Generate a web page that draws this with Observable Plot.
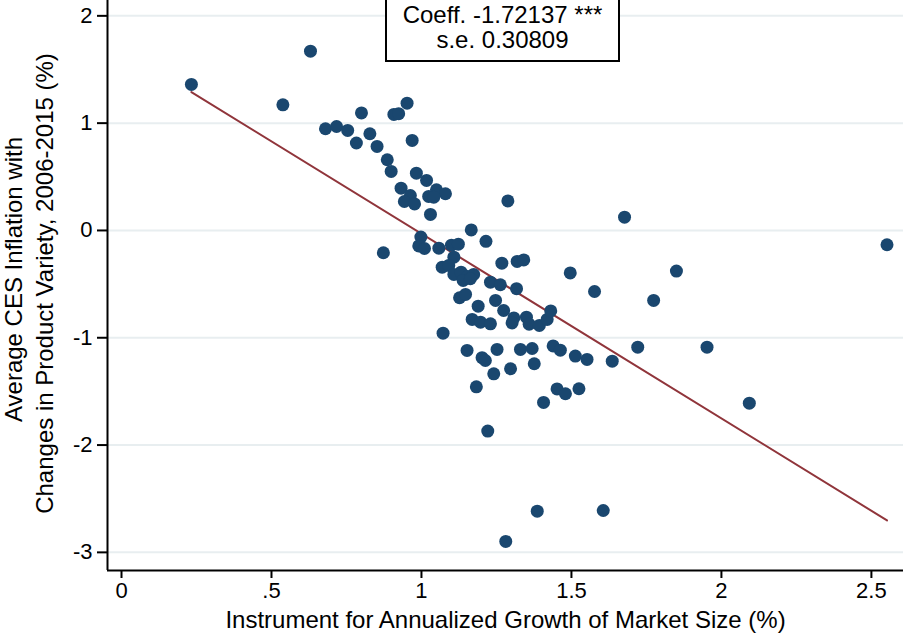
<!DOCTYPE html>
<html>
<head>
<meta charset="utf-8">
<script src="https://cdn.jsdelivr.net/npm/d3@7"></script>
<script src="https://cdn.jsdelivr.net/npm/@observablehq/plot@0.6"></script>
<style>
  html, body { margin: 0; padding: 0; background: #fff; }
  body { font-family: "Liberation Sans", Arial, sans-serif; }
  #wrap { position: relative; width: 903px; height: 635px; overflow: hidden; }
  #box { position: absolute; left: 385px; top: -3px; width: 231px; height: 58px;
         border: 2px solid #000; background: #fff; text-align: center;
         font-size: 24px; line-height: 25px; padding-top: 3px; box-sizing: content-box; color: #000; }
  #box div { white-space: nowrap; }
</style>
</head>
<body>
<div id="wrap"><div id="chart"></div><div id="box"></div></div>
<script>
// Instrument for annualized growth of market size (%)
const xs = [
  0.233, 0.630, 0.538, 0.680, 0.717, 0.754, 0.783, 0.800, 0.828, 0.852,
  0.886, 0.899, 0.908, 0.924, 0.952, 0.969, 0.983, 1.017, 0.932, 0.963,
  0.943, 0.977, 1.024, 1.050, 1.080, 1.041, 1.030, 1.288, 1.166, 1.215,
  0.998, 0.991, 1.010, 1.058, 1.100, 1.123, 0.873, 1.108, 1.069, 1.091,
  1.108, 1.132, 1.154, 1.174, 1.139, 1.163, 1.268, 1.319, 1.341, 1.496,
  1.230, 1.263, 1.317, 1.127, 1.147, 1.189, 1.247, 1.274, 1.169, 1.197,
  1.230, 1.308, 1.302, 1.350, 1.359, 1.393, 1.419, 1.431, 1.072, 1.152,
  1.202, 1.213, 1.252, 1.330, 1.369, 1.439, 1.463, 1.513, 1.552, 1.636,
  1.721, 1.297, 1.241, 1.376, 1.183, 1.452, 1.480, 1.525, 1.407, 1.221,
  1.386, 1.606, 1.281, 1.677, 1.577, 1.850, 1.774, 2.552, 1.952, 2.093
];
// Average CES inflation with changes in product variety, 2006-2015 (%)
const ys = [
  1.361, 1.671, 1.171, 0.948, 0.969, 0.932, 0.815, 1.095, 0.901, 0.783,
  0.659, 0.550, 1.081, 1.088, 1.186, 0.839, 0.534, 0.466, 0.394, 0.326,
  0.270, 0.247, 0.317, 0.379, 0.342, 0.310, 0.149, 0.275, 0.005, -0.101,
  -0.062, -0.144, -0.168, -0.165, -0.137, -0.128, -0.208, -0.249, -0.342, -0.326,
  -0.410, -0.389, -0.429, -0.410, -0.466, -0.450, -0.305, -0.289, -0.275, -0.396,
  -0.482, -0.506, -0.543, -0.627, -0.596, -0.706, -0.652, -0.746, -0.829, -0.855,
  -0.870, -0.815, -0.862, -0.808, -0.873, -0.885, -0.829, -0.750, -0.957, -1.118,
  -1.186, -1.212, -1.109, -1.109, -1.100, -1.076, -1.116, -1.171, -1.202, -1.218,
  -1.088, -1.289, -1.336, -1.242, -1.457, -1.477, -1.522, -1.475, -1.603, -1.870,
  -2.616, -2.610, -2.898, 0.124, -0.569, -0.379, -0.652, -0.133, -1.088, -1.610
];

const xTicks = [0, 0.5, 1, 1.5, 2, 2.5];
const xTickLabels = ["0", ".5", "1", "1.5", "2", "2.5"];
const yTicks = [-3, -2, -1, 0, 1, 2];
const yTickLabels = ["-3", "-2", "-1", "0", "1", "2"];
const xDomain = [-0.0467, 2.607];
const yDomain = [-3.169, 2.143];

const coeff = -1.72137;
const se = 0.30809;
const stars = "***";
const intercept = 1.691;
const fitRange = [0.233, 2.552];

const xLabel = "Instrument for Annualized Growth of Market Size (%)";
const yLabel1 = "Average CES Inflation with";
const yLabel2 = "Changes in Product Variety, 2006-2015 (%)";

const points = xs.map((x, i) => ({x, y: ys[i]}));
const fit = fitRange.map(x => ({x, y: intercept + coeff * x}));

const FONT = "Liberation Sans, Arial, sans-serif";
const navy = "#1a476f";
const maroon = "#90353b";

const chart = Plot.plot({
  width: 903,
  height: 635,
  marginLeft: 107,
  marginRight: 0,
  marginTop: 0,
  marginBottom: 65,
  style: {fontFamily: FONT, background: "#fff", color: "#000"},
  x: {domain: xDomain},
  y: {domain: yDomain},
  marks: [
    Plot.gridY(yTicks, {stroke: "#e8eef0", strokeOpacity: 1, strokeWidth: 2}),
    Plot.ruleX([xDomain[0]], {stroke: "#000", strokeWidth: 2}),
    Plot.ruleY([yDomain[0]], {stroke: "#000", strokeWidth: 2}),
    Plot.axisX(xTicks, {
      tickSize: 8, tickPadding: 4, strokeWidth: 2, fontSize: 22,
      tickFormat: (d) => xTickLabels[xTicks.indexOf(d)],
      label: null
    }),
    Plot.axisY(yTicks, {
      tickSize: 10, tickPadding: 5, strokeWidth: 2, fontSize: 22,
      tickFormat: d => yTickLabels[yTicks.indexOf(d)],
      label: null
    }),
    Plot.text([xLabel], {
      frameAnchor: "bottom", dy: 57, fontSize: 24, fill: "#000", lineAnchor: "bottom"
    }),
    Plot.text([yLabel1], {
      frameAnchor: "left", dx: -93, dy: -6, rotate: -90, fontSize: 24, fill: "#000", textAnchor: "middle", lineAnchor: "middle"
    }),
    Plot.text([yLabel2], {
      frameAnchor: "left", dx: -62, dy: -2, rotate: -90, fontSize: 24, fill: "#000", textAnchor: "middle", lineAnchor: "middle"
    }),
    Plot.line(fit, {x: "x", y: "y", stroke: maroon, strokeWidth: 2}),
    Plot.dot(points, {x: "x", y: "y", r: 6.5, fill: navy, stroke: "none"})
  ]
});
document.getElementById("chart").appendChild(chart);

const box = document.getElementById("box");
const l1 = document.createElement("div");
l1.textContent = `Coeff. ${coeff} ${stars}`;
const l2 = document.createElement("div");
l2.textContent = `s.e. ${se}`;
box.appendChild(l1);
box.appendChild(l2);
</script>
</body>
</html>
